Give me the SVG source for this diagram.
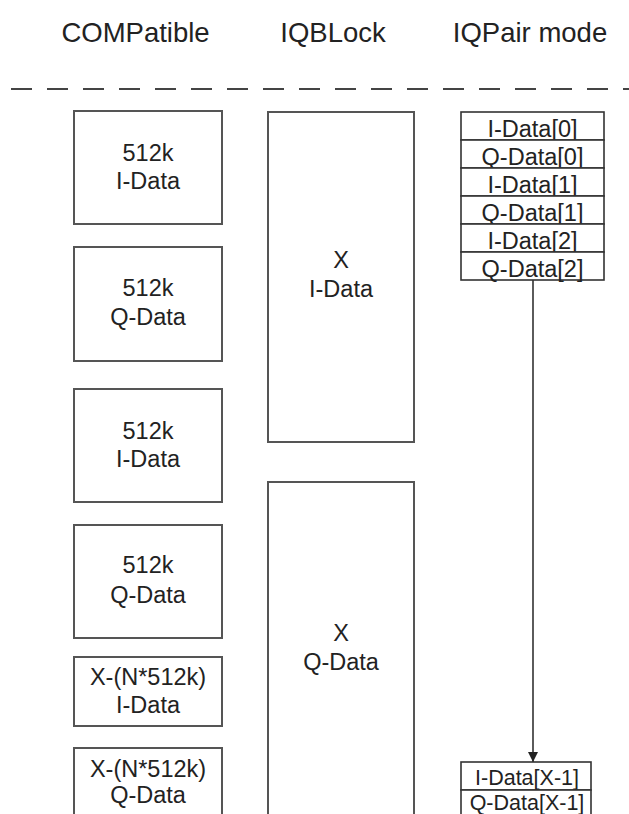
<svg xmlns="http://www.w3.org/2000/svg" width="629" height="814" viewBox="0 0 629 814">
<style>
text{font-family:"Liberation Sans",Arial,sans-serif;fill:#222;text-anchor:middle}
.h{font-size:27.5px}
.t{font-size:23.5px}
.s{font-size:21.5px}
.b{fill:#fff;stroke:#555;stroke-width:2}
.r{fill:#fff;stroke:#333;stroke-width:1.6}
.c{stroke:#333;stroke-width:1.6;fill:none}
</style>
<defs>
<marker id="ah" viewBox="0 0 10 10" refX="10" refY="5" markerWidth="10" markerHeight="10" markerUnits="userSpaceOnUse" orient="auto">
<path d="M0,0 L10,5 L0,10 z" fill="#222"/>
</marker>
</defs>
<rect width="629" height="814" fill="#fff"/>
<g id="headers">
<text class="h" x="135.5" y="42">COMPatible</text>
<text class="h" x="333" y="42">IQBLock</text>
<text class="h" x="530" y="42">IQPair mode</text>
<line x1="11" y1="89" x2="629" y2="89" stroke="#444" stroke-width="2" stroke-dasharray="21 15"/>
</g>
<g id="comp1"><rect class="b" x="74" y="111" width="148" height="113"/><text class="t" x="148" y="161">512k</text><text class="t" x="148" y="189">I-Data</text></g>
<g id="comp2"><rect class="b" x="74" y="247" width="148" height="114"/><text class="t" x="148" y="296">512k</text><text class="t" x="148" y="325">Q-Data</text></g>
<g id="comp3"><rect class="b" x="74" y="389" width="148" height="113"/><text class="t" x="148" y="439">512k</text><text class="t" x="148" y="467">I-Data</text></g>
<g id="comp4"><rect class="b" x="74" y="525" width="148" height="113"/><text class="t" x="148" y="573">512k</text><text class="t" x="148" y="603">Q-Data</text></g>
<g id="comp5"><rect class="b" x="74" y="657" width="148" height="69"/><text class="t" x="148" y="685">X-(N*512k)</text><text class="t" x="148" y="713">I-Data</text></g>
<g id="comp6"><rect class="b" x="74" y="748" width="148" height="80"/><text class="t" x="148" y="777">X-(N*512k)</text><text class="t" x="148" y="803">Q-Data</text></g>
<g id="blk1"><rect class="b" x="268" y="112" width="146" height="330"/><text class="t" x="341" y="268">X</text><text class="t" x="341" y="297">I-Data</text></g>
<g id="blk2"><rect class="b" x="268" y="482" width="146" height="346"/><text class="t" x="341" y="641">X</text><text class="t" x="341" y="670">Q-Data</text></g>
<g id="pair-top">
<rect class="r" x="461" y="112" width="143" height="28"/><text class="t" x="532.5" y="137">I-Data[0]</text>
<rect class="r" x="461" y="140" width="143" height="28"/><text class="t" x="532.5" y="165">Q-Data[0]</text>
<rect class="r" x="461" y="168" width="143" height="28"/><text class="t" x="532.5" y="193">I-Data[1]</text>
<rect class="r" x="461" y="196" width="143" height="28"/><text class="t" x="532.5" y="221">Q-Data[1]</text>
<rect class="r" x="461" y="224" width="143" height="28"/><text class="t" x="532.5" y="249">I-Data[2]</text>
<rect class="r" x="461" y="252" width="143" height="28"/><text class="t" x="532.5" y="277">Q-Data[2]</text>
</g>
<g id="pair-bottom">
<rect class="r" x="461" y="762" width="130" height="28"/><text class="s" x="527" y="784.5">I-Data[X-1]</text>
<rect class="r" x="461" y="790" width="130" height="28"/><text class="s" x="527" y="809.5">Q-Data[X-1]</text>
</g>
<g id="connectors">
<line class="c" x1="533" y1="280" x2="533" y2="762" marker-end="url(#ah)"/>
</g>
</svg>
